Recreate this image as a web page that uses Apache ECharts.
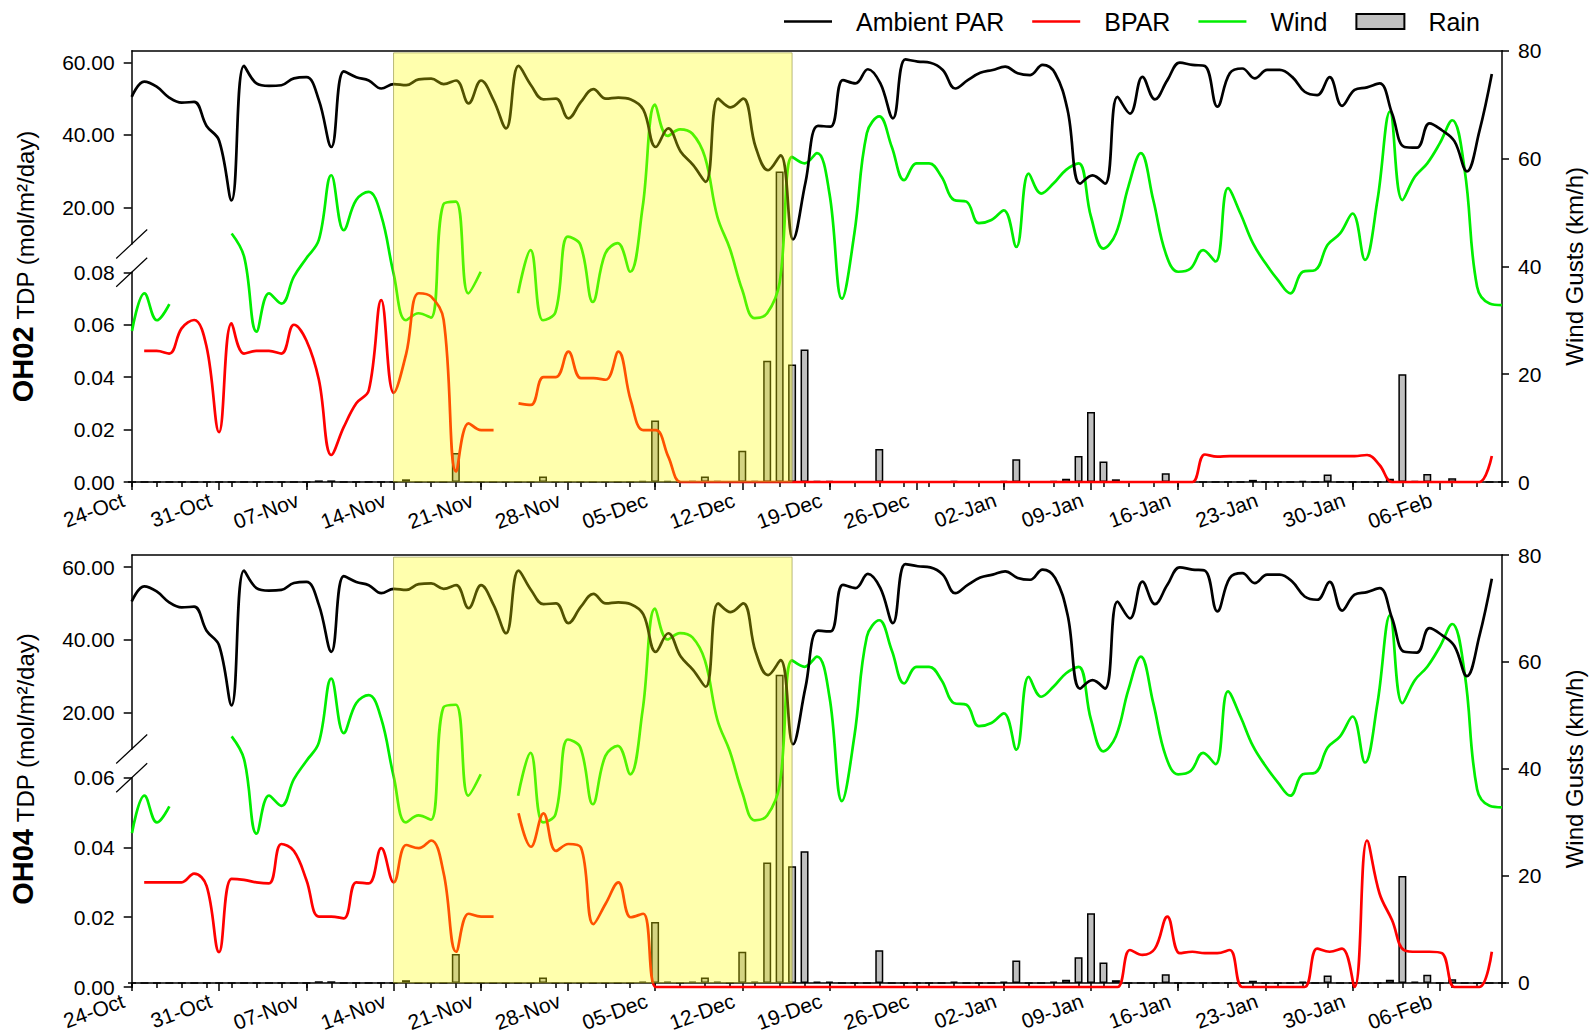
<!DOCTYPE html>
<html>
<head>
<meta charset="utf-8">
<script src="https://cdn.jsdelivr.net/npm/echarts@6.0.0/dist/echarts.min.js"></script>
<style>
html, body { margin: 0; padding: 0; background: #fff; }
#chart { width: 1594px; height: 1034px; }
</style>
</head>
<body>
<div id="chart"></div>
<script>
// x = day index from 24-Oct (0) to 11-Feb (110)
var tickLabels = ['24-Oct', '31-Oct', '07-Nov', '14-Nov', '21-Nov', '28-Nov', '05-Dec', '12-Dec',
  '19-Dec', '26-Dec', '02-Jan', '09-Jan', '16-Jan', '23-Jan', '30-Jan', '06-Feb'];

// Ambient PAR (mol/m2/day), one value per day
var ambientPar = [50.5, 54.7, 53.3, 50.3, 48.9, 49.1, 42.5, 38.5, 22, 59,
  54.2, 53.5, 53.7, 55.6, 55.9, 49.6, 36.7, 57.5, 55.9, 55,
  52.8, 54, 53.7, 55.3, 55.5, 54, 55, 48.7, 55, 49.6,
  41.8, 59, 53.7, 49.8, 50, 44.6, 49.1, 52.6, 50, 50.3,
  49.8, 47, 36.7, 41.8, 35.4, 31.7, 27.1, 50, 47.6, 50,
  36.7, 30.3, 34.4, 11.3, 27, 42.5, 42.3, 55.1, 54.2, 58.1,
  54.2, 44.6, 60.8, 60.2, 59.9, 57.9, 52.8, 55.1, 57.1, 57.9,
  58.8, 57, 56.5, 59.3, 57, 46.9, 26.6, 28.9, 26.6, 50.5,
  45.9, 56, 49.8, 55.1, 59.9, 59.3, 59, 47.8, 57, 58.3,
  55.6, 57.9, 57.9, 56, 51.9, 51, 55.9, 48, 52.4, 53.1,
  54.2, 46, 36.7, 36.5, 43.2, 41.3, 38.3, 30, 41, 56.8,
  null];

// Wind gusts (km/h)
var windGusts = [28, 35, 30, 33, null, null, null, null, 46.1, 41.8,
  27.9, 35, 33.1, 38.1, 41.5, 44.9, 56.9, 46.7, 52.3, 53.8,
  49.5, 38.7, 30, 31.3, 30.5, 51.5, 52, 35, 39, null,
  null, 35, 43, 30, 31.5, 45.5, 44, 33.4, 42.4, 44.3,
  39, 51, 70, 64.2, 65.4, 64.6, 60.3, 49.2, 43.3, 35.6,
  30.4, 31.3, 37, 60.3, 59.1, 61, 53.5, 34, 46.1, 64.7,
  67.8, 62.2, 56, 59.1, 59.1, 56.6, 52.3, 52, 48, 48.6,
  50.4, 43.6, 57.2, 53.5, 55.4, 57.9, 59.1, 49.2, 43.3, 46.1,
  54.8, 61, 52.3, 42.4, 39, 39.6, 43, 40.9, 54.5, 49.8,
  44.3, 40.6, 37.5, 35, 39, 39.3, 44, 46.1, 49.8, 41.2,
  52.3, 68.7, 52.3, 56.6, 59.1, 62.8, 67.1, 57.9, 36.2, 33.1,
  32.8];

// Rain (mm)
var rain = [0, 0, 0, 0, 0, 0, 0, 0, 0, 0,
  0, 0, 0, 0, 0, 0.3, 0.3, 0, 0, 0,
  0, 0, 0.5, 0, 0, 0, 5.4, 0, 0, 0,
  0, 0, 0, 1.0, 0, 0, 0, 0, 0, 0,
  0, 0.2, 11.4, 0.2, 0, 0.2, 1.0, 0.2, 0, 5.8,
  0.2, 22.5, 57.6, 21.8, 24.6, 0.2, 0.2, 0, 0, 0,
  6.1, 0, 0, 0, 0, 0, 0.2, 0, 0, 0,
  0.2, 4.2, 0, 0, 0.2, 0.6, 4.8, 13, 3.8, 0.5,
  0, 0, 0, 1.6, 0, 0, 0, 0, 0, 0,
  0.4, 0, 0, 0, 0.2, 0, 1.4, 0, 0, 0,
  0, 0.6, 20, 0.2, 1.5, 0, 0.7, 0, 0, 0,
  0];

// BPAR at OH02 (mol/m2/day)
var bparOH02 = [null, 0.050, 0.050, 0.049, 0.0586, 0.0618, 0.0516, 0.019, 0.0605, 0.049,
  0.050, 0.050, 0.049, 0.060, 0.054, 0.039, 0.0103, 0.021, 0.030, 0.035,
  0.0694, 0.034, 0.049, 0.072, 0.0707, 0.0618, 0.004, 0.0224, 0.0198, 0.0198,
  null, 0.030, 0.0294, 0.040, 0.040, 0.0497, 0.0396, 0.0396, 0.039, 0.0497,
  0.031, 0.0198, 0.0198, 0.0097, 0, 0, 0, 0, 0, 0,
  0, 0, 0, 0, 0, 0, 0, 0, 0, 0,
  0, 0, 0, 0, 0, 0, 0, 0, 0, 0,
  0, 0, 0, 0, 0, 0, 0, 0, 0, 0,
  0, 0, 0, 0, 0, 0, 0.0105, 0.0097, 0.0099, 0.0099,
  0.0099, 0.0099, 0.0099, 0.0099, 0.0099, 0.0099, 0.0099, 0.0099, 0.0099, 0.0103,
  0.0065, 0, 0, 0, 0, 0, 0, 0, 0, 0.0099,
  null];

// BPAR at OH04 (mol/m2/day)
var bparOH04 = [null, 0.030, 0.030, 0.030, 0.030, 0.0325, 0.029, 0.010, 0.031, 0.0307,
  0.030, 0.0297, 0.041, 0.039, 0.0307, 0.0202, 0.0202, 0.0197, 0.030, 0.0297,
  0.0398, 0.030, 0.0407, 0.0398, 0.042, 0.0326, 0.0101, 0.021, 0.0202, 0.0202,
  null, 0.0498, 0.0402, 0.0498, 0.039, 0.041, 0.040, 0.018, 0.024, 0.030,
  0.020, 0.021, 0, 0, 0, 0, 0, 0, 0, 0,
  0, 0, 0, 0, 0, 0, 0, 0, 0, 0,
  0, 0, 0, 0, 0, 0, 0, 0, 0, 0,
  0, 0, 0, 0, 0, 0, 0, 0, 0, 0,
  0.0106, 0.0092, 0.011, 0.0202, 0.0097, 0.0101, 0.0097, 0.0097, 0.0106, 0,
  0, 0, 0, 0, 0, 0.011, 0.0101, 0.011, 0, 0.042,
  0.0268, 0.0192, 0.0105, 0.0101, 0.0101, 0.0097, 0, 0, 0, 0.0101,
  null];

// shaded period (day index start/end)
var shadeBand = [[21, 53]];

var panels = [
  { site: 'OH02', bpar: bparOH02, bparMax: 0.08, parMax: 63.2, top: 50.7, upperBottom: 244, lowerTop: 272.3, bottom: 482 },
  { site: 'OH04', bpar: bparOH04, bparMax: 0.06, parMax: 63.3, top: 555, upperBottom: 749, lowerTop: 777.7, bottom: 987 }
];

var FONT = "'Liberation Sans', Arial, sans-serif";
var LEFT = 131.7, WIDTH = 1372.6, DAYS = 110;
var LINE_ICON = 'path://M0,0H48V2.6H0Z';

function pairs(arr) {
  return arr.map(function (v, i) { return [i, v]; });
}
function fmt2(v) { return v.toFixed(2); }

var majorDays = tickLabels.map(function (t, i) { return i * 7; });

var grids = [], xAxes = [], yAxes = [], series = [], graphics = [];

panels.forEach(function (p, k) {
  var g0 = k * 3, x0 = k * 5, y0 = k * 4;
  grids.push(
    { left: LEFT, width: WIDTH, top: p.top, height: p.upperBottom - p.top },
    { left: LEFT, width: WIDTH, top: p.lowerTop, height: p.bottom - p.lowerTop },
    { left: LEFT, width: WIDTH, top: p.top, height: p.bottom - p.top }
  );
  var hiddenX = { type: 'value', min: 0, max: DAYS, show: false };
  xAxes.push(
    Object.assign({ gridIndex: g0 }, hiddenX),
    Object.assign({ gridIndex: g0 + 1 }, hiddenX),
    {
      gridIndex: g0 + 2, type: 'value', min: 0, max: DAYS, position: 'bottom',
      axisLine: { onZero: false, lineStyle: { color: '#000', width: 1.5 } },
      axisTick: { length: 8, lineStyle: { color: '#000', width: 1.5 }, customValues: majorDays },
      axisLabel: {
        customValues: majorDays, rotate: 20, margin: 14, padding: [0, 9, 0, 0],
        fontSize: 21, color: '#000', fontFamily: FONT,
        formatter: function (v) { return tickLabels[Math.round(v / 7)] || ''; }
      },
      splitLine: { show: false }
    },
    {
      gridIndex: g0 + 2, type: 'value', min: 0, max: DAYS, interval: 2, position: 'bottom',
      axisLine: { show: false, onZero: false },
      axisTick: { length: 5, lineStyle: { color: '#000', width: 1.5 } },
      axisLabel: { show: false }, splitLine: { show: false }
    },
    {
      gridIndex: g0 + 2, type: 'value', min: 0, max: DAYS, position: 'top',
      axisLine: { onZero: false, lineStyle: { color: '#000', width: 1.5 } },
      axisTick: { show: false }, axisLabel: { show: false }, splitLine: { show: false }
    }
  );
  yAxes.push(
    {
      gridIndex: g0, type: 'value', min: 10, max: p.parMax, position: 'left',
      axisLine: { show: true, onZero: false, lineStyle: { color: '#000', width: 1.5 } },
      axisTick: { show: true, length: 8, customValues: [20, 40, 60], lineStyle: { color: '#000', width: 1.5 } },
      axisLabel: { customValues: [20, 40, 60], formatter: fmt2, fontSize: 21, margin: 17, color: '#000', fontFamily: FONT },
      splitLine: { show: false }
    },
    {
      gridIndex: g0 + 1, type: 'value', min: 0, max: p.bparMax, interval: 0.02, position: 'left',
      axisLine: { show: true, onZero: false, lineStyle: { color: '#000', width: 1.5 } },
      axisTick: { show: true, length: 8, lineStyle: { color: '#000', width: 1.5 } },
      axisLabel: { formatter: fmt2, fontSize: 21, margin: 17, color: '#000', fontFamily: FONT },
      splitLine: { show: false }
    },
    {
      gridIndex: g0 + 2, type: 'value', min: 0, max: 80, interval: 20, position: 'right',
      name: 'Wind Gusts (km/h)', nameLocation: 'middle', nameRotate: 90, nameGap: 60,
      nameTextStyle: { fontSize: 24, color: '#000', fontFamily: FONT },
      axisLine: { show: true, onZero: false, lineStyle: { color: '#000', width: 1.5 } },
      axisTick: { show: true, length: 7, lineStyle: { color: '#000', width: 1.5 } },
      axisLabel: { fontSize: 21, margin: 16, color: '#000', fontFamily: FONT },
      splitLine: { show: false }
    },
    {
      gridIndex: g0 + 2, type: 'value', min: 0, max: 1, position: 'left',
      name: '{b|' + p.site + '} {n|TDP (mol/m²/day)}', nameLocation: 'middle', nameRotate: 90, nameGap: 95,
      nameTextStyle: {
        color: '#000', fontFamily: FONT, fontSize: 24,
        rich: {
          b: { fontSize: 29, fontWeight: 'bold', fontFamily: FONT, color: '#000', verticalAlign: 'bottom' },
          n: { fontSize: 24, fontFamily: FONT, color: '#000', verticalAlign: 'bottom' }
        }
      },
      axisLine: { show: false, onZero: false }, axisTick: { show: false },
      axisLabel: { show: false }, splitLine: { show: false }
    }
  );

  series.push(
    {
      name: 'Rain', type: 'bar', xAxisIndex: x0 + 2, yAxisIndex: y0 + 2, barWidth: 8,
      itemStyle: { color: '#c0c0c0', borderColor: '#000', borderWidth: 1.5 },
      data: pairs(rain), z: 2
    },
    {
      name: 'Wind', type: 'line', xAxisIndex: x0 + 2, yAxisIndex: y0 + 2, smooth: 0.4,
      symbol: 'none', connectNulls: false, lineStyle: { color: '#00ee00', width: 2.7 },
      itemStyle: { color: '#00ee00' }, data: pairs(windGusts), z: 3
    },
    {
      name: 'Ambient PAR', type: 'line', xAxisIndex: x0, yAxisIndex: y0, smooth: 0.4,
      symbol: 'none', lineStyle: { color: '#000', width: 2.7 }, itemStyle: { color: '#000' },
      data: pairs(ambientPar), z: 3
    },
    {
      name: 'BPAR', type: 'line', xAxisIndex: x0 + 1, yAxisIndex: y0 + 1, smooth: 0.4, clip: false,
      symbol: 'none', connectNulls: false, lineStyle: { color: '#ff0000', width: 2.7 },
      itemStyle: { color: '#ff0000' }, data: pairs(p.bpar), z: 3
    },
    {
      name: 'shade', type: 'custom', xAxisIndex: x0 + 2, yAxisIndex: y0 + 2, z: 10,
      silent: true, encode: { x: [0, 1] }, data: shadeBand,
      renderItem: function (params, api) {
        var a = api.coord([api.value(0), 79.6]);
        var b = api.coord([api.value(1), 0]);
        return {
          type: 'rect',
          shape: { x: a[0], y: a[1], width: b[0] - a[0], height: b[1] - a[1] },
          style: { fill: 'rgba(255,255,0,0.32)', stroke: 'rgba(140,140,60,0.6)', lineWidth: 1 }
        };
      }
    }
  );

  // axis break marks
  [p.upperBottom, p.lowerTop].forEach(function (cy) {
    graphics.push({
      type: 'line', silent: true, z: 20,
      shape: { x1: LEFT - 15.5, y1: cy + 14.5, x2: LEFT + 15.5, y2: cy - 14.5 },
      style: { stroke: '#000', lineWidth: 1.2 }
    });
  });
});

var chart = echarts.init(document.getElementById('chart'), null, { renderer: 'svg' });
chart.setOption({
  animation: false,
  backgroundColor: '#fff',
  textStyle: { fontFamily: FONT, color: '#000' },
  legend: {
    left: 779, top: 4, itemWidth: 48, itemHeight: 15, itemGap: 28, symbolKeepAspect: true,
    textStyle: { fontSize: 25, color: '#000', fontFamily: FONT, padding: [0, 0, 0, 19] },
    data: [
      { name: 'Ambient PAR', icon: LINE_ICON },
      { name: 'BPAR', icon: LINE_ICON },
      { name: 'Wind', icon: LINE_ICON },
      { name: 'Rain', icon: 'rect' }
    ]
  },
  grid: grids,
  xAxis: xAxes,
  yAxis: yAxes,
  series: series,
  graphic: graphics
});
</script>
</body>
</html>
